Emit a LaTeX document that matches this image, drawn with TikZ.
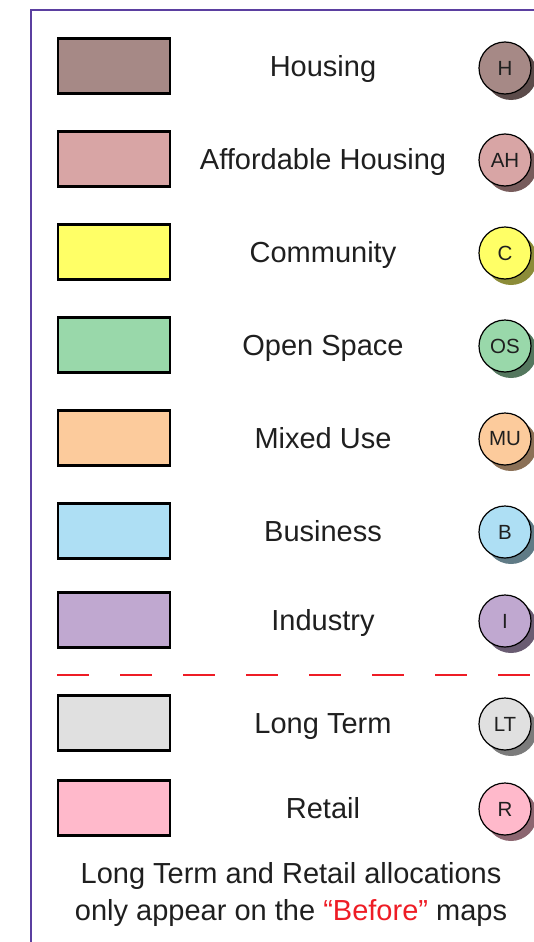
\documentclass[tikz,border=0pt]{standalone}
\usepackage{fontspec}
\setmainfont{Liberation Sans}
\usetikzlibrary{shadows}

\definecolor{housing}{HTML}{A68986}
\definecolor{affordable}{HTML}{D8A5A5}
\definecolor{community}{HTML}{FFFF66}
\definecolor{openspace}{HTML}{99D8AA}
\definecolor{mixeduse}{HTML}{FCCB9C}
\definecolor{business}{HTML}{AEDFF4}
\definecolor{industry}{HTML}{C0A8D0}
\definecolor{longterm}{HTML}{E0E0E0}
\definecolor{retail}{HTML}{FFB9CB}
\definecolor{framepurple}{HTML}{5B3FA0}
\definecolor{dashred}{HTML}{EE1C25}

\begin{document}
\begin{tikzpicture}
  [x=1pt,y=-1pt,
   swatch/.style={rectangle,draw=black,line width=2.5pt,fill=#1,
     minimum width=112pt,minimum height=55pt,inner sep=0pt},
   lbl/.style={anchor=base,text=black!88,font=\fontsize{29}{37}\selectfont},
   badge/.style={circle,draw=black,line width=1.2pt,fill=#1,text=black!88,
     minimum size=52pt,inner sep=0pt,font=\fontsize{20.5}{24}\selectfont,
     drop shadow={shadow xshift=6pt,shadow yshift=-6pt,opacity=1,fill=#1!55!black}}]
  \useasboundingbox (0,0) rectangle (534,942);
  \clip (0,0) rectangle (534,942);

  % frame
  \coordinate (f1) at (31,960);
  \coordinate (f2) at (560,10);
  \draw[framepurple,line width=2pt] (f1) |- (f2);

  \node[swatch=housing] (sw1) at (114,66) {};
  \node[lbl] (lb1) at (323,76.5) {Housing};
  \node[badge=housing] (bd1) at (505,68) {H};

  \node[swatch=affordable] (sw2) at (114,159) {};
  \node[lbl] (lb2) at (323,169.5) {Affordable Housing};
  \node[badge=affordable] (bd2) at (505,160) {AH};

  \node[swatch=community] (sw3) at (114,252) {};
  \node[lbl] (lb3) at (323,262.5) {Community};
  \node[badge=community] (bd3) at (505,253) {C};

  \node[swatch=openspace] (sw4) at (114,345) {};
  \node[lbl] (lb4) at (323,355.5) {Open Space};
  \node[badge=openspace] (bd4) at (505,346) {OS};

  \node[swatch=mixeduse] (sw5) at (114,438) {};
  \node[lbl] (lb5) at (323,448.5) {Mixed Use};
  \node[badge=mixeduse] (bd5) at (505,439) {MU};

  \node[swatch=business] (sw6) at (114,531) {};
  \node[lbl] (lb6) at (323,541.5) {Business};
  \node[badge=business] (bd6) at (505,532) {B};

  \node[swatch=industry] (sw7) at (114,620) {};
  \node[lbl] (lb7) at (323,630.5) {Industry};
  \node[badge=industry] (bd7) at (505,621) {I};

  % divider
  \coordinate (d1) at (57,675);
  \coordinate (d2) at (560,675);
  \draw[dashred,line width=2pt,dash pattern=on 32pt off 31pt] (d1) -- (d2);

  \node[swatch=longterm] (sw8) at (114,723) {};
  \node[lbl] (lb8) at (323,733.5) {Long Term};
  \node[badge=longterm] (bd8) at (505,724) {LT};

  \node[swatch=retail] (sw9) at (114,808) {};
  \node[lbl] (lb9) at (323,818.5) {Retail};
  \node[badge=retail] (bd9) at (505,809) {R};

  \node[lbl,align=center] (note) at (291,920.5)
    {Long Term and Retail allocations\\only appear on the \textcolor{dashred}{``Before''} maps};
\end{tikzpicture}
\end{document}
